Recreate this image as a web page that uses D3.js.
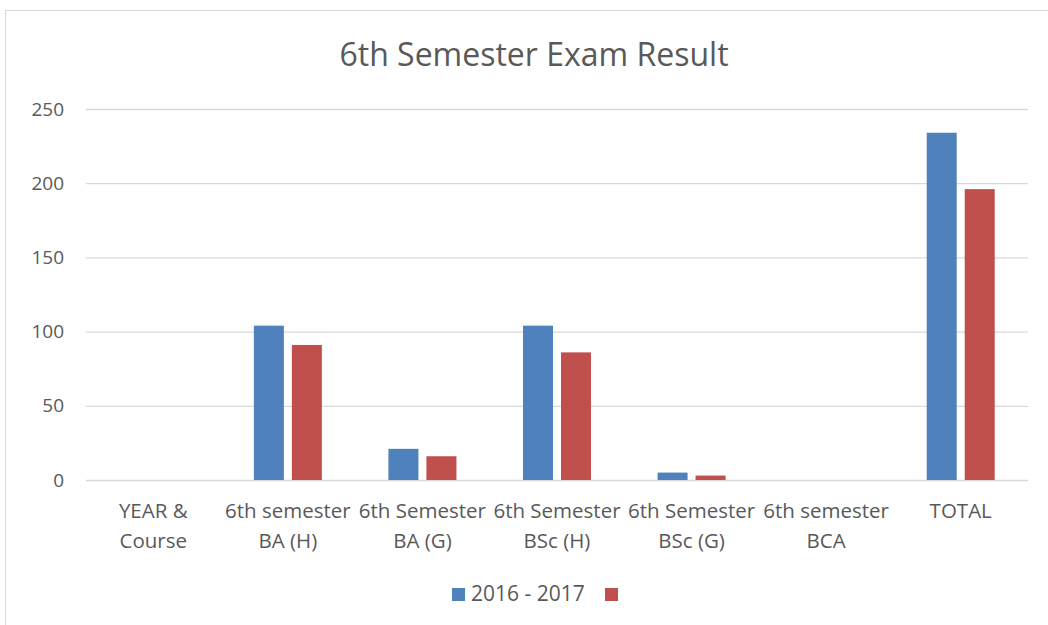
<!DOCTYPE html>
<html><head><meta charset="utf-8">
<script src="https://cdn.jsdelivr.net/npm/d3@7"></script>
<style>body{margin:0;background:#fff;}svg{display:block;font-family:"Open Sans","Noto Sans",sans-serif;}</style>
</head><body>
<svg id="c" width="1048" height="625"></svg>
<script>
const categories = [["YEAR &","Course"],["6th semester","BA (H)"],["6th Semester","BA (G)"],["6th Semester","BSc (H)"],["6th Semester","BSc (G)"],["6th semester","BCA"],["TOTAL"]];
const seriesNames = ["2016 - 2017", ""];
const series1 = [0, 104, 21, 104, 5, 0, 234];
const series2 = [0, 91, 16, 86, 3, 0, 196];
const yTicks = [0, 50, 100, 150, 200, 250];
const colors = ["#4f81bd", "#c0504d"];

const svg = d3.select("#c");
svg.append("rect").attr("x",5.5).attr("y",10.5).attr("width",1060).attr("height",640)
  .attr("fill","#fff").attr("stroke","#d9d9d9");

const pLeft=86, pRight=1028, pTop=109, pBottom=480;
const x = d3.scaleBand().domain(d3.range(categories.length)).range([pLeft,pRight]);
const y = d3.scaleLinear().domain([0,250]).range([pBottom,pTop]);

svg.append("text").attr("x",534).attr("y",66).attr("text-anchor","middle")
  .attr("font-size",32).attr("fill","#595959").text("6th Semester Exam Result");

const yAxis = svg.append("g").attr("transform",`translate(${pLeft},0)`)
  .call(d3.axisLeft(y).tickValues(yTicks).tickSize(-(pRight-pLeft)).tickPadding(22));
yAxis.select(".domain").remove();
yAxis.selectAll(".tick line").attr("stroke","#d9d9d9").attr("stroke-width",1.3);
yAxis.selectAll(".tick text").attr("fill","#595959").attr("font-size",19).attr("font-family","Open Sans");

const bw = x.bandwidth()*0.223, gap = 8;
const data = [series1, series2];
data.forEach((s,si)=>{
  svg.append("g").selectAll("rect").data(s).join("rect")
    .attr("x",(d,i)=>x(i)+x.bandwidth()/2 + (si===0 ? -gap/2-bw : gap/2))
    .attr("y",d=>y(d)).attr("width",bw).attr("height",d=>y(0)-y(d))
    .attr("fill",colors[si]);
});

const xl = svg.append("g");
categories.forEach((lines,i)=>{
  const t = xl.append("text").attr("x",x(i)+x.bandwidth()/2).attr("y",518)
    .attr("text-anchor","middle").attr("font-size",20.5).attr("fill","#595959");
  lines.forEach((ln,j)=>t.append("tspan").attr("x",x(i)+x.bandwidth()/2).attr("dy",j?30:0).text(ln));
});

const lg = svg.append("g");
lg.append("rect").attr("x",452).attr("y",588).attr("width",13).attr("height",13).attr("fill",colors[0]);
lg.append("text").attr("x",471).attr("y",601).attr("font-size",21).attr("fill","#595959").text(seriesNames[0]);
lg.append("rect").attr("x",605).attr("y",588).attr("width",13).attr("height",13).attr("fill",colors[1]);
</script>
</body></html>
